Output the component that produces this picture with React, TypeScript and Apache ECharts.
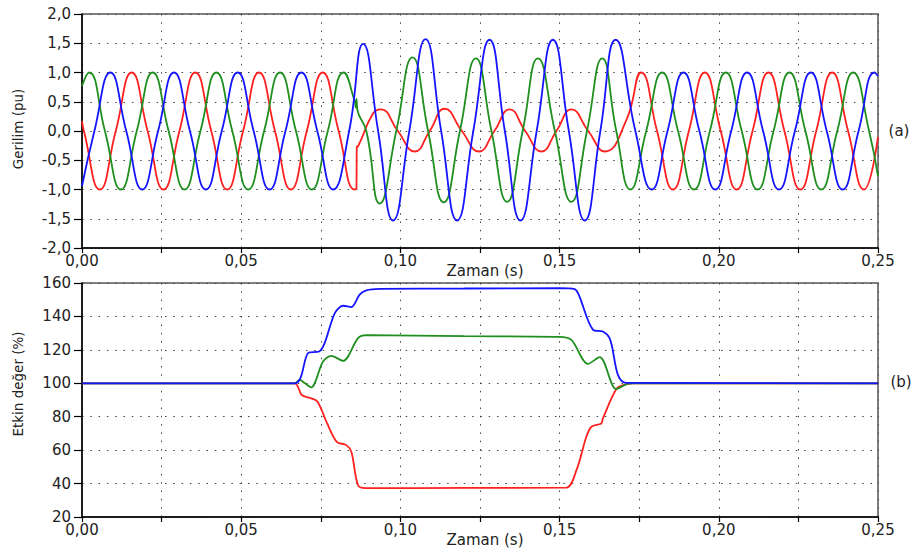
import React, { useEffect, useRef } from 'react';
import * as echarts from 'echarts';

// Phase voltages (pu): [time s, value] read at peaks / zero crossings / events
const voltageA: [number, number][] = [
  [0, 0.17],
  [0.0006, 0], [0.0056, -1], [0.0106, 0], [0.0156, 1],
  [0.0206, 0], [0.0256, -1], [0.0306, 0], [0.0356, 1],
  [0.0406, 0], [0.0456, -1], [0.0506, 0], [0.0556, 1],
  [0.0606, 0], [0.0656, -1], [0.0706, 0], [0.0756, 1],
  [0.0806, 0], [0.0856, -1], [0.0862, -0.98], [0.0863, -0.27], [0.0867, -0.26],
  [0.0914, 0.3], [0.0938, 0.37], [0.0992, 0], [0.1045, -0.35], [0.1092, 0],
  [0.1139, 0.38], [0.1193, 0], [0.1247, -0.35], [0.1295, 0], [0.1343, 0.37],
  [0.1392, 0], [0.1443, -0.35], [0.149, 0], [0.1537, 0.37], [0.159, 0],
  [0.1642, -0.35], [0.171, 0.19], [0.1756, 1],
  [0.1806, 0], [0.1856, -1], [0.1906, 0], [0.1956, 1],
  [0.2006, 0], [0.2056, -1], [0.2106, 0], [0.2156, 1],
  [0.2206, 0], [0.2256, -1], [0.2306, 0], [0.2356, 1],
  [0.2406, 0], [0.2456, -1], [0.25, -0.1],
];

const voltageB: [number, number][] = [
  [0, 0.77],
  [0.0022, 1], [0.0072, 0], [0.0122, -1], [0.0172, 0],
  [0.0222, 1], [0.0272, 0], [0.0322, -1], [0.0372, 0],
  [0.0422, 1], [0.0472, 0], [0.0522, -1], [0.0572, 0],
  [0.0622, 1], [0.0672, 0], [0.0722, -1], [0.0772, 0],
  [0.0822, 1], [0.0857, 0.5], [0.086, 0.4], [0.0862, 0.55], [0.0865, 0.36],
  [0.0893, 0], [0.0935, -1.24], [0.0987, 0], [0.1038, 1.26], [0.1087, 0],
  [0.1136, -1.22], [0.1187, 0], [0.1237, 1.24], [0.1286, 0], [0.1335, -1.21],
  [0.1384, 0], [0.1432, 1.24], [0.1485, 0], [0.1537, -1.21], [0.1586, 0],
  [0.1634, 1.24], [0.1678, 0], [0.1722, -1],
  [0.1772, 0], [0.1822, 1], [0.1872, 0], [0.1922, -1],
  [0.1972, 0], [0.2022, 1], [0.2072, 0], [0.2122, -1],
  [0.2172, 0], [0.2222, 1], [0.2272, 0], [0.2322, -1],
  [0.2372, 0], [0.2422, 1], [0.2472, 0], [0.25, -0.77],
];

const voltageC: [number, number][] = [
  [0, -0.94],
  [0.0039, 0], [0.0089, 1], [0.0139, 0], [0.0189, -1],
  [0.0239, 0], [0.0289, 1], [0.0339, 0], [0.0389, -1],
  [0.0439, 0], [0.0489, 1], [0.0539, 0], [0.0589, -1],
  [0.0639, 0], [0.0689, 1], [0.0739, 0], [0.0789, -1],
  [0.0839, 0], [0.0883, 1.49], [0.093, 0], [0.0977, -1.53], [0.1028, 0],
  [0.1079, 1.57], [0.1128, 0], [0.1178, -1.53], [0.1229, 0], [0.128, 1.56],
  [0.1328, 0], [0.1377, -1.53], [0.1428, 0], [0.1479, 1.56], [0.1529, 0],
  [0.1579, -1.53], [0.1628, 0], [0.1676, 1.56], [0.1738, 0], [0.1789, -1],
  [0.1839, 0], [0.1889, 1], [0.1939, 0], [0.1989, -1],
  [0.2039, 0], [0.2089, 1], [0.2139, 0], [0.2189, -1],
  [0.2239, 0], [0.2289, 1], [0.2339, 0], [0.2389, -1],
  [0.2439, 0], [0.2489, 1], [0.25, 0.94],
];

// RMS values (%)
const rmsA: [number, number][] = [
  [0, 100], [0.0668, 100], [0.069, 93], [0.072, 91], [0.074, 89], [0.077, 76],
  [0.08, 65], [0.083, 63], [0.0846, 59], [0.0867, 39], [0.089, 37.3],
  [0.12, 37.4], [0.1521, 37.6], [0.1553, 48], [0.1584, 68], [0.16, 74],
  [0.1631, 76], [0.1636, 79], [0.168, 97], [0.1712, 99.6], [0.173, 100], [0.25, 100],
];

const rmsB: [number, number][] = [
  [0, 100], [0.0668, 100], [0.0684, 102], [0.07, 100], [0.072, 97.6],
  [0.0757, 113], [0.0783, 116.4], [0.082, 113.4], [0.0867, 127], [0.0893, 128.8],
  [0.12, 128.2], [0.15, 127.8], [0.1537, 126], [0.1589, 111.6], [0.1626, 115.6],
  [0.1678, 96.5], [0.1712, 99.6], [0.173, 100], [0.25, 100],
];

const rmsC: [number, number][] = [
  [0, 100], [0.0668, 100], [0.0712, 118.4], [0.0745, 119], [0.0762, 124],
  [0.0794, 142], [0.082, 146.4], [0.0846, 145.6], [0.0872, 153], [0.0893, 155.6],
  [0.0935, 156.5], [0.12, 156.7], [0.15, 156.9], [0.1547, 156.3], [0.156, 153],
  [0.1605, 132], [0.1636, 131], [0.1657, 127], [0.171, 100.2], [0.25, 100],
];

const COLORS = ['#ff2020', '#1f8f1f', '#1414ff'];
const FONT = 'DejaVu Sans';

const xFormatter = (v: number) => {
  const m = Math.round(v * 1000);
  if (m % 50 !== 0) return '';
  return (m / 1000).toFixed(2).replace('.', ',');
};

export default function App() {
  const ref = useRef<HTMLDivElement>(null);
  useEffect(() => {
    const chart = echarts.init(ref.current!, null, { renderer: 'svg' });
    const dotted = { type: [1.5, 6.8], color: '#444', width: 1 };
    const labelStyle = { color: '#222', fontFamily: FONT, fontSize: 15 };
    const xAxes = [0, 1].map((i) => ({
      type: 'value',
      gridIndex: i,
      min: 0,
      max: 0.25,
      interval: 0.025,
      axisLine: { show: true, onZero: false, lineStyle: { color: '#000', width: 1.5 } },
      axisTick: { show: true, inside: false, length: 5, lineStyle: { color: '#000', width: 1.2 } },
      axisLabel: { ...labelStyle, margin: 5, formatter: xFormatter, showMinLabel: true, showMaxLabel: true },
      splitLine: { show: true, lineStyle: dotted },
    }));
    const yAxes = [
      {
        type: 'value', gridIndex: 0, min: -2, max: 2, interval: 0.5,
        axisLine: { show: true, onZero: false, lineStyle: { color: '#000', width: 1.5 } },
        axisTick: { show: true, inside: false, length: 8, lineStyle: { color: '#000', width: 1.2 } },
        axisLabel: { ...labelStyle, margin: 11, formatter: (v: number) => v.toFixed(1).replace('.', ',') },
        splitLine: { show: true, lineStyle: dotted },
      },
      {
        type: 'value', gridIndex: 1, min: 20, max: 160, interval: 20,
        axisLine: { show: true, onZero: false, lineStyle: { color: '#000', width: 1.5 } },
        axisTick: { show: true, inside: false, length: 8, lineStyle: { color: '#000', width: 1.2 } },
        axisLabel: { ...labelStyle, margin: 11, formatter: (v: number) => String(v) },
        splitLine: { show: true, lineStyle: dotted },
      },
    ];
    const mk = (data: [number, number][], idx: number, color: string, smooth: number) => ({
      type: 'line',
      xAxisIndex: idx,
      yAxisIndex: idx,
      data,
      showSymbol: false,
      symbol: 'none',
      smooth,
      lineStyle: { color, width: 1.8 },
      emphasis: { disabled: true },
    });
    const text = (t: string, x: number, y: number, size: number, rot = 0) => ({
      type: 'text',
      x,
      y,
      rotation: rot,
      style: {
        text: t,
        fill: '#222',
        font: `${size}px "${FONT}"`,
        align: 'center',
        verticalAlign: 'middle',
      },
    });
    chart.setOption({
      animation: false,
      backgroundColor: '#fff',
      grid: [
        { left: 82, top: 14, width: 796, height: 234, show: true, borderColor: '#555', borderWidth: 1.5, backgroundColor: 'transparent' },
        { left: 82, top: 283, width: 796, height: 234, show: true, borderColor: '#555', borderWidth: 1.5, backgroundColor: 'transparent' },
      ],
      xAxis: xAxes,
      yAxis: yAxes,
      series: [
        mk(voltageA, 0, COLORS[0], 0.5),
        mk(voltageB, 0, COLORS[1], 0.5),
        mk(voltageC, 0, COLORS[2], 0.5),
        mk(rmsA, 1, COLORS[0], 0.3),
        mk(rmsB, 1, COLORS[1], 0.3),
        mk(rmsC, 1, COLORS[2], 0.3),
      ],
      graphic: [
        text('Gerilim (pu)', 18, 129, 13.5, Math.PI / 2),
        text('Etkin değer (%)', 18, 384, 13.5, Math.PI / 2),
        text('Zaman (s)', 485, 271, 15),
        text('Zaman (s)', 485, 540, 15),
        text('(a)', 899, 131, 15),
        text('(b)', 901, 382, 15),
      ],
    });
    return () => chart.dispose();
  }, []);
  return (
    <div
      ref={ref}
      style={{ position: 'fixed', left: 0, top: 0, width: 913, height: 554, background: '#fff' }}
    />
  );
}
